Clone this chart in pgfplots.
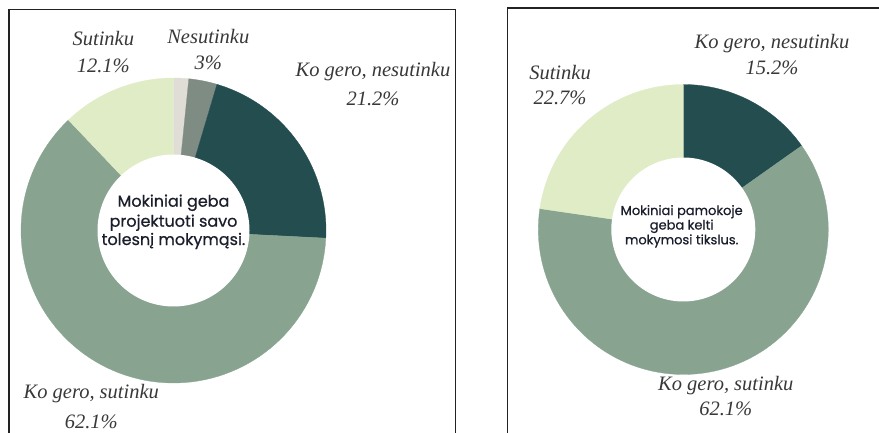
\documentclass[border=0pt]{standalone}
\usepackage{fontspec}
\setmainfont{Liberation Serif}
\newfontfamily\cfont{Poppins}[FakeBold=0.6]
\usepackage{pgfplots}
\usepackage{pgfplotstable}
\pgfplotsset{compat=1.18}

\definecolor{cDk}{HTML}{244D4F}
\definecolor{cSg}{HTML}{88A491}
\definecolor{cLt}{HTML}{DFECC6}
\definecolor{cGr}{HTML}{7F8C84}
\definecolor{cLG}{HTML}{E0DDD7}
\definecolor{txt}{HTML}{383838}
\definecolor{ctr}{HTML}{1A1D2B}
\definecolor{frm}{HTML}{222222}

% share of answers, in %, clockwise from 12 o'clock
\pgfplotstableread{
value col
1.6 cLG
3.0 cGr
21.2 cDk
62.1 cSg
12.1 cLt
}\tabA
\pgfplotstableread{
value col
15.2 cDk
62.1 cSg
22.7 cLt
}\tabB

\newcommand\donut[3]{%
  \pgfplotstablegetrowsof{#1}%
  \pgfmathtruncatemacro\NN{\pgfplotsretval-1}%
  \def\cum{0}%
  \pgfplotsforeachungrouped \ii in {0,...,\NN}{%
    \pgfplotstablegetelem{\ii}{value}\of#1\let\vv\pgfplotsretval
    \pgfplotstablegetelem{\ii}{col}\of#1\let\cc\pgfplotsretval
    \pgfmathsetmacro\aS{90-3.6*\cum}%
    \pgfmathsetmacro\cum{\cum+\vv}%
    \pgfmathsetmacro\aE{90-3.6*\cum}%
    \edef\temp{\noexpand\addplot[fill=\cc,draw=\cc,line width=0.3pt,domain=\aE:\aS,samples=90] ({#2*cos(x)},{#2*sin(x)}) -- (0,0) -- cycle;}%
    \temp
  }%
  \addplot[fill=white,draw=none,domain=0:360,samples=120] ({#3*cos(x)},{#3*sin(x)}) -- cycle;
}

\tikzset{
  lab/.style={font=\itshape\fontsize{20.5}{24}\selectfont, text=txt, anchor=base, inner sep=0pt},
  ctA/.style={font=\cfont\fontsize{16}{19}\selectfont, text=ctr, anchor=base, inner sep=0pt},
  ctB/.style={font=\cfont\fontsize{13}{15}\selectfont, text=ctr, anchor=base, inner sep=0pt},
}

\begin{document}
\begin{tikzpicture}[x=1pt,y=-1pt]
\useasboundingbox (0,0) rectangle (879,433);
\clip (0,0) rectangle (879,433);

% frames
\draw[line width=1.3pt, frm] (9,445) -- (9,9.3) -- (455.7,9.3) -- (455.7,445);
\draw[line width=1.3pt, frm] (507.7,445) -- (507.7,8) -- (890,8);

\begin{axis}[at={(173.5pt,-230.5pt)}, anchor=origin, x=1pt, y=1pt,
  xmin=-160, xmax=160, ymin=-160, ymax=160, hide axis, clip=false]
  \donut{\tabA}{152.5}{76}
\end{axis}

\begin{axis}[at={(683.3pt,-229.5pt)}, anchor=origin, x=1pt, y=1pt,
  xmin=-160, xmax=160, ymin=-160, ymax=160, hide axis, clip=false]
  \donut{\tabB}{145}{72}
\end{axis}

% left labels
\node[lab] at (103.3,45.7) {Sutinku};
\node[lab] at (103.3,72.7) {12.1\%};
\node[lab] at (208.3,43.3) {Nesutinku};
\node[lab] at (208.3,70) {3\%};
\node[lab] at (373,76.7) {Ko gero, nesutinku};
\node[lab] at (373,106) {21.2\%};
\node[lab] at (91.3,398) {Ko gero, sutinku};
\node[lab] at (91.3,428) {62.1\%};

% right labels
\node[lab] at (772,48.3) {Ko gero, nesutinku};
\node[lab] at (772,75) {15.2\%};
\node[lab] at (560,80) {Sutinku};
\node[lab] at (560,105) {22.7\%};
\node[lab] at (725.8,390) {Ko gero, sutinku};
\node[lab] at (725.8,415) {62.1\%};

% centre texts
\node[ctA] at (173.5,206.7) {Mokiniai geba};
\node[ctA] at (173.5,226.7) {projektuoti savo};
\node[ctA] at (173.5,245) {tolesnį mokymąsi.};

\node[ctB] at (681.7,215) {Mokiniai pamokoje};
\node[ctB] at (681.7,229.5) {geba kelti};
\node[ctB] at (681.7,244.3) {mokymosi tikslus.};
\end{tikzpicture}
\end{document}
